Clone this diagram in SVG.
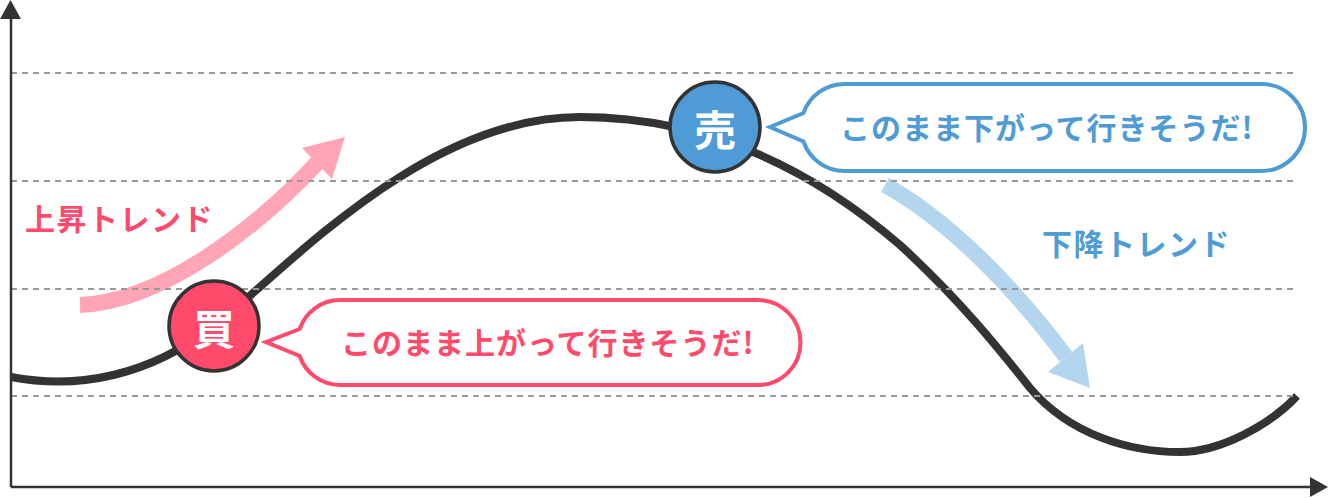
<svg xmlns="http://www.w3.org/2000/svg" width="1328" height="498" viewBox="0 0 1328 498">
<style>
.t{font-family:"Noto Sans CJK JP","Noto Sans",sans-serif;font-weight:700}
.grid{stroke:#999;stroke-width:2;stroke-dasharray:6 5;fill:none}
.axis{stroke:#333;stroke-width:2.5;fill:none}
.curve{stroke:#333;stroke-width:8;fill:none}
.pink{fill:#ff4a6b}
.blue{fill:#4f9bd6}
</style>
<rect width="1328" height="498" fill="#fff"/>
<g id="trend-arrows">
<path d="M80,305 C160,302 255,230 318,162" stroke="#ffa5b5" stroke-width="16" fill="none"/>
<polygon points="345,137 302,148 332,179" fill="#ffa5b5"/>
<path d="M885,185 C945,218 1010,282 1066,357" stroke="#b3d5ee" stroke-width="16" fill="none"/>
<polygon points="1090,388 1048,372 1083,343" fill="#b3d5ee"/>
</g>
<g id="connectors">
<path class="curve" d="M11,377 C80,390 150,375 214,326 C280,276 420,117 580,117 C680,117 790,150 900,245 C960,300 1000,350 1030,388 C1070,435 1130,452 1180,452 C1220,452 1270,425 1297,396"/>
</g>
<g id="grid">
<line class="grid" x1="11" y1="73" x2="1297" y2="73"/>
<line class="grid" x1="11" y1="181" x2="1297" y2="181"/>
<line class="grid" x1="11" y1="289" x2="1297" y2="289"/>
<line class="grid" x1="11" y1="396" x2="1297" y2="396"/>
</g>
<g id="axes">
<line class="axis" x1="11" y1="18" x2="11" y2="487"/>
<line class="axis" x1="11" y1="487" x2="1311" y2="487"/>
<polygon points="10.5,0 0,19 21,19" fill="#333"/>
<polygon points="1328,487 1310,477 1310,497" fill="#333"/>
</g>
<g id="label-up">
<text class="t pink" x="25" y="230" font-size="30" letter-spacing="1.5">上昇トレンド</text>
</g>
<g id="label-down">
<text class="t blue" x="1042" y="255" font-size="30" letter-spacing="1.5">下降トレンド</text>
</g>
<g id="buy">
<circle cx="214" cy="326" r="45" fill="#ff4a6b" stroke="#333" stroke-width="3.5"/>
<text class="t" x="214" y="326" font-size="42" fill="#fff" text-anchor="middle" dominant-baseline="central">買</text>
</g>
<g id="sell">
<circle cx="715" cy="127" r="45" fill="#4f9bd6" stroke="#333" stroke-width="3.5"/>
<text class="t" x="715" y="127" font-size="42" fill="#fff" text-anchor="middle" dominant-baseline="central">売</text>
</g>
<g id="buy-bubble">
<path d="M340,300 H758 A42.5,42.5 0 0 1 758,385 H340 A42.5,42.5 0 0 1 299.7,356 L266,342 L299.7,329 A42.5,42.5 0 0 1 340,300 Z" fill="#fff" stroke="#ff4a6b" stroke-width="4"/>
<text class="t pink" x="341" y="354" font-size="30" letter-spacing="1">このまま上がって行きそうだ!</text>
</g>
<g id="sell-bubble">
<path d="M844.5,84 H1261.5 A43.5,43.5 0 0 1 1261.5,171 H844.5 A43.5,43.5 0 0 1 803.5,141.5 L770,127 L803.5,113 A43.5,43.5 0 0 1 844.5,84 Z" fill="#fff" stroke="#4f9bd6" stroke-width="4"/>
<text class="t blue" x="840" y="139" font-size="30" letter-spacing="1">このまま下がって行きそうだ!</text>
</g>
</svg>
